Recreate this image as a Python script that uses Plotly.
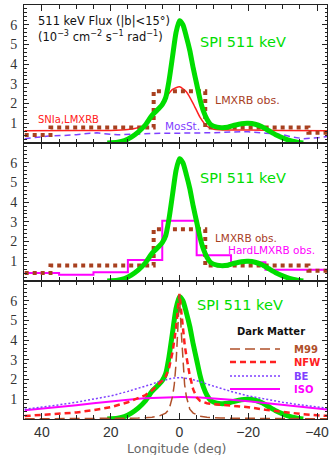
import plotly.graph_objects as go
from plotly.subplots import make_subplots

# ---------------- data ----------------
spi_lon = [21, 18, 16, 14, 12, 10, 8, 6, 5, 4, 3, 2, 1, 0, -1, -2, -3, -4, -5, -6, -7, -8, -9, -10,
           -12, -14, -16, -18, -20, -22, -24, -26, -28, -30, -32, -34, -36]
spi_flux = [0.0, 0.04, 0.12, 0.3, 0.55, 0.9, 1.4, 1.75, 1.95, 2.3, 3.2, 4.4, 5.6, 6.2, 6.0, 5.4, 4.7, 3.8,
            3.0, 2.2, 1.6, 1.2, 0.95, 0.85, 0.78, 0.8, 0.9, 0.98, 1.0, 0.95, 0.82, 0.62, 0.42, 0.26,
            0.13, 0.05, 0.0]

sn_lon = [45, 30, 20, 15, 12, 10, 8, 6, 4, 2, 0, -2, -4, -6, -8, -10, -15, -20, -30, -45]
sn_flux = [0.62, 0.63, 0.64, 0.68, 0.78, 0.92, 1.3, 1.8, 2.3, 2.72, 2.85, 2.6, 2.0, 1.3, 0.85, 0.7,
           0.66, 0.66, 0.64, 0.62]

mos_lon = [45, 42, 38, 34, 30, 26, 24, 22, 18, 14, 10, 5, 0, -5, -10, -15, -20, -25, -30, -33, -36, -40, -43]
mos_flux = [0.22, 0.28, 0.35, 0.38, 0.42, 0.5, 0.52, 0.47, 0.42, 0.44, 0.48, 0.5, 0.5, 0.5, 0.52, 0.56,
            0.57, 0.5, 0.42, 0.3, 0.22, 0.26, 0.33]

lmxrb_edges = [45, 37.5, 7.5, -7.5, -37.5, -45]
lmxrb_flux = [0.4, 0.78, 2.62, 0.78, 0.52]

hard_edges = [45, 35, 25, 15, 5, -5, -15, -25, -35, -45]
hard_flux = [0.4, 0.32, 0.45, 1.07, 3.05, 1.3, 0.95, 0.57, 0.57]

model_lon = [45, 40, 35, 30, 25, 20, 15, 12, 10, 8, 6, 5, 4, 3, 2, 1.5, 1, 0.5, 0,
             -0.5, -1, -1.5, -2, -3, -4, -5, -6, -8, -10, -12, -15, -20, -25, -30, -35, -40, -45]
m99_flux = [0.01, 0.01, 0.015, 0.02, 0.025, 0.03, 0.04, 0.05, 0.06, 0.09, 0.14, 0.2, 0.3, 0.5, 1.15, 1.75,
            2.8, 4.5, 6.3, 4.5, 2.8, 1.75, 1.15, 0.5, 0.3, 0.2, 0.14, 0.09, 0.06, 0.05, 0.04, 0.03,
            0.025, 0.02, 0.015, 0.01, 0.01]
nfw_flux = [0.15, 0.2, 0.25, 0.33, 0.45, 0.6, 0.85, 1.05, 1.2, 1.45, 1.75, 1.95, 2.15, 2.6, 3.4, 3.9,
            4.6, 5.5, 6.35, 5.5, 4.6, 3.8, 3.2, 2.2, 1.5, 1.1, 0.92, 0.8, 0.75, 0.72, 0.68, 0.6,
            0.47, 0.35, 0.26, 0.19, 0.14]
be_flux = [0.5, 0.6, 0.72, 0.85, 1.0, 1.17, 1.4, 1.55, 1.66, 1.77, 1.9, 1.95, 1.99, 2.03, 2.07, 2.08,
           2.09, 2.1, 2.1, 2.1, 2.09, 2.08, 2.07, 2.03, 1.99, 1.95, 1.9, 1.77, 1.66, 1.55, 1.4, 1.17,
           1.0, 0.85, 0.72, 0.6, 0.5]
iso_flux = [0.44, 0.52, 0.6, 0.7, 0.8, 0.9, 0.98, 1.03, 1.05, 1.07, 1.09, 1.1, 1.1, 1.11, 1.12, 1.12,
            1.12, 1.12, 1.12, 1.12, 1.12, 1.12, 1.12, 1.11, 1.1, 1.1, 1.09, 1.07, 1.05, 1.03, 0.98,
            0.9, 0.8, 0.7, 0.6, 0.52, 0.44]

x_ticks = [40, 20, 0, -20, -40]
y_ticks = [1, 2, 3, 4, 5, 6]

# ---------------- styles ----------------
GREEN = "#00dd00"
RED = "#ff2020"
BROWN = "#a8401f"
PURPLE = "#7f40ff"
MAGENTA = "#ff00ff"
M99C = "#b0502a"
AX = "#222222"

W, H = 331, 455
ML, MR, MT, MB = 24, 4, 5, 36
PW, PH = W - ML - MR, H - MT - MB


def px(x):
    return (x - ML) / PW


def py(y):
    return 1 - (y - MT) / PH


def steps(edges, vals):
    xs, ys = [], []
    for i, v in enumerate(vals):
        xs += [edges[i], edges[i + 1]]
        ys += [v, v]
    return xs, ys


fig = make_subplots(rows=3, cols=1, shared_xaxes=True, vertical_spacing=0)

# panel 1
fig.add_trace(go.Scatter(x=mos_lon, y=mos_flux, mode="lines",
                         line=dict(color=PURPLE, width=1.5, dash="6px,4px")), row=1, col=1)
fig.add_trace(go.Scatter(x=sn_lon, y=sn_flux, mode="lines",
                         line=dict(color=RED, width=1.5, shape="spline", smoothing=0.6)), row=1, col=1)
lx, ly = steps(lmxrb_edges, lmxrb_flux)
fig.add_trace(go.Scatter(x=lx, y=ly, mode="lines",
                         line=dict(color=BROWN, width=4, dash="4px,4px")), row=1, col=1)
fig.add_trace(go.Scatter(x=spi_lon, y=spi_flux, mode="lines",
                         line=dict(color=GREEN, width=5, shape="spline", smoothing=0.6)), row=1, col=1)

# panel 2
hx, hy = steps(hard_edges, hard_flux)
fig.add_trace(go.Scatter(x=hx, y=hy, mode="lines",
                         line=dict(color=MAGENTA, width=2)), row=2, col=1)
fig.add_trace(go.Scatter(x=lx, y=ly, mode="lines",
                         line=dict(color=BROWN, width=4, dash="4px,4px")), row=2, col=1)
fig.add_trace(go.Scatter(x=spi_lon, y=spi_flux, mode="lines",
                         line=dict(color=GREEN, width=5, shape="spline", smoothing=0.6)), row=2, col=1)

# panel 3
fig.add_trace(go.Scatter(x=spi_lon, y=spi_flux, mode="lines",
                         line=dict(color=GREEN, width=5, shape="spline", smoothing=0.6)), row=3, col=1)
fig.add_trace(go.Scatter(x=model_lon, y=iso_flux, mode="lines",
                         line=dict(color=MAGENTA, width=2)), row=3, col=1)
fig.add_trace(go.Scatter(x=model_lon, y=be_flux, mode="lines",
                         line=dict(color=PURPLE, width=1.5, dash="2px,2px")), row=3, col=1)
fig.add_trace(go.Scatter(x=model_lon, y=nfw_flux, mode="lines",
                         line=dict(color=RED, width=2.5, dash="6px,4px")), row=3, col=1)
fig.add_trace(go.Scatter(x=model_lon, y=m99_flux, mode="lines",
                         line=dict(color=M99C, width=1.5, dash="10px,5px")), row=3, col=1)

xax = dict(range=[45.2, -42.9], tickmode="array", tickvals=x_ticks,
           ticktext=["40", "20", "0", "\u221220", "\u221240"],
           ticks="inside", ticklen=6, tickwidth=1, tickcolor=AX,
           showline=True, linecolor=AX, linewidth=1, mirror="ticks",
           showgrid=False, zeroline=False,
           tickfont=dict(family="Liberation Sans", size=14, color="#333"),
           minor=dict(tickmode="linear", tick0=0, dtick=5, ticks="inside", ticklen=4,
                      tickwidth=1, tickcolor=AX))
yax = dict(range=[0, 7], tickmode="array", tickvals=y_ticks,
           ticks="inside", ticklen=5, tickwidth=1, tickcolor=AX,
           showline=True, linecolor=AX, linewidth=1, mirror="ticks",
           showgrid=False, zeroline=False, ticklabelstandoff=3,
           tickfont=dict(family="Liberation Serif", size=14, color="#333"),
           minor=dict(tickmode="linear", tick0=0, dtick=0.2, ticks="inside", ticklen=2.5,
                      tickwidth=1, tickcolor=AX))

for r in (1, 2, 3):
    fig.update_xaxes(**xax, showticklabels=(r == 3), row=r, col=1)
    fig.update_yaxes(**yax, row=r, col=1)

FONT = "DejaVu Sans"
ann = []


def text(t, x, y, color, size, anchor="left", bold=False):
    ann.append(dict(text=("<b>%s</b>" % t) if bold else t, x=px(x), y=py(y), xref="paper", yref="paper",
                    xanchor=anchor, yanchor="middle", showarrow=False,
                    font=dict(family=FONT, size=size, color=color)))


text("511 keV Flux (|b|<15\u00b0)", 36, 21, "#111", 11.5)
text("(10<sup>\u22123</sup> cm<sup>\u22122</sup> s<sup>\u22121</sup> rad<sup>\u22121</sup>)", 36, 36, "#111", 11.5)
text("SPI 511 keV", 243, 42, GREEN, 14.5, "center")
text("LMXRB obs.", 213, 100, BROWN, 11)
text("MosSt.", 163, 126, PURPLE, 10.5)
text("SNIa,LMXRB", 36, 119, RED, 10)
text("SPI 511 keV", 243, 178, GREEN, 14.5, "center")
text("LMXRB obs.", 213, 238, BROWN, 10.5)
text("HardLMXRB obs.", 226, 250, MAGENTA, 10.5)
text("SPI 511 keV", 240, 305, GREEN, 14.5, "center")
text("Dark Matter", 235, 331, "#111", 10, bold=True)
text("Longitude (deg)", 176, 448, "#666", 12.5, "center")

legend_items = [("M99", M99C, 1.5, "10px,5px", 349),
                ("NFW", RED, 2.5, "6px,4px", 362),
                ("BE", PURPLE, 1.5, "2px,2px", 376),
                ("ISO", MAGENTA, 2, "solid", 389)]
shapes = []
for name, col, wd, dash, yy in legend_items:
    shapes.append(dict(type="line", xref="paper", yref="paper", x0=px(230), x1=px(280),
                       y0=py(yy), y1=py(yy), line=dict(color=col, width=wd, dash=dash)))
    text(name, 292, yy, col, 10, bold=True)

fig.update_layout(width=W, height=H, margin=dict(l=ML, r=MR, t=MT, b=MB),
                  template="none", showlegend=False, plot_bgcolor="white", paper_bgcolor="white",
                  annotations=ann, shapes=shapes)

fig.write_html("out.html")
